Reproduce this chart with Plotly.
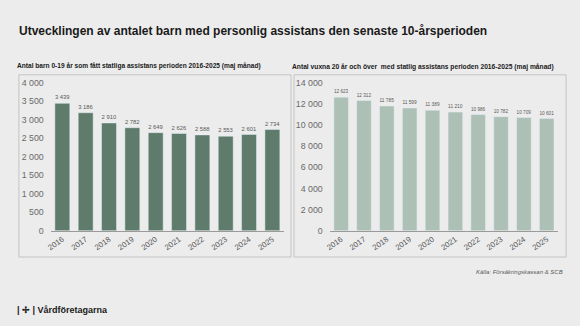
import plotly.graph_objects as go

years = ["2016", "2017", "2018", "2019", "2020", "2021", "2022", "2023", "2024", "2025"]
children = [3439, 3186, 2910, 2782, 2649, 2626, 2588, 2553, 2601, 2734]
adults = [12623, 12312, 11785, 11599, 11389, 11210, 10986, 10782, 10709, 10601]

title_text = "Utvecklingen av antalet barn med personlig assistans den senaste 10-årsperioden"
left_sub = "Antal barn 0-19 år som fått statliga assistans perioden 2016-2025 (maj månad)"
right_sub = "Antal vuxna 20 år och över  med statlig assistans perioden 2016-2025 (maj månad)"
source_text = "Källa: Försäkringskassan & SCB"
brand_text = "| ✢ | Vårdföretagarna"

W, H = 580, 326
BG = "#ECECEC"
SANS = "Liberation Sans, Arial, sans-serif"
GREY = "#595959"


def px(x):
    return x / W


def py(y):
    return 1 - y / H


fig = go.Figure()

fig.add_trace(go.Bar(
    x=years, y=children, marker_color="#5F7B6C", xaxis="x", yaxis="y",
    texttemplate="%{y:,}", textposition="outside", cliponaxis=False,
    textfont=dict(size=6.5, color=GREY, family=SANS), hoverinfo="skip",
))
fig.add_trace(go.Bar(
    x=years, y=adults, marker_color="#ADC0B5", xaxis="x2", yaxis="y2",
    texttemplate="%{y:,}", textposition="outside", cliponaxis=False,
    textfont=dict(size=6.5, color=GREY, family=SANS), hoverinfo="skip",
))

y_dom = [py(233), py(80)]
xcommon = dict(showline=True, linecolor="#9A9A9A", linewidth=1, showgrid=False,
               ticks="", tickangle=-35, tickfont=dict(size=7.8, color=GREY, family=SANS),
               fixedrange=True)
ycommon = dict(showline=False, showgrid=False, zeroline=False, ticks="",
               tickformat=",d", tickfont=dict(size=8.8, color="#6A6A6A", family=SANS),
               ticklabelstandoff=6, fixedrange=True)

fig.update_layout(
    width=W, height=H, margin=dict(l=0, r=0, t=0, b=0),
    paper_bgcolor=BG, plot_bgcolor=BG, showlegend=False,
    separators=", ", bargap=0.36,
    xaxis=dict(domain=[px(47), px(282)], anchor="y", **xcommon),
    yaxis=dict(domain=y_dom, anchor="x", range=[0, 4000], dtick=500, **ycommon),
    xaxis2=dict(domain=[px(328), px(558)], anchor="y2", **xcommon),
    yaxis2=dict(domain=y_dom, anchor="x2", range=[0, 14000], dtick=2000, **ycommon),
)

# panel frames
for x0, x1 in [(15, 289), (292, 566)]:
    fig.add_shape(type="rect", xref="paper", yref="paper",
                  x0=px(x0), x1=px(x1), y0=py(260), y1=py(72),
                  line=dict(color="#C4C4C4", width=1), fillcolor="rgba(0,0,0,0)",
                  layer="below")

ann = [
    dict(text=f"<b>{title_text}</b>", x=px(13), y=py(27), size=12, color="#1A1A1A",
         xanchor="left"),
    dict(text=f"<b>{left_sub}</b>", x=px(11), y=py(63), size=6.6, color="#1A1A1A",
         xanchor="left"),
    dict(text=f"<b>{right_sub}</b>", x=px(288), y=py(64), size=6.7, color="#1A1A1A",
         xanchor="left"),
    dict(text=f"<i>{source_text}</i>", x=px(565), y=py(275), size=6, color=GREY,
         xanchor="right"),
    dict(text=f"<b>{brand_text}</b>", x=px(11), y=py(315), size=9, color="#1A1A1A",
         xanchor="left"),
]
for a in ann:
    fig.add_annotation(text=a["text"], x=a["x"], y=a["y"], xref="paper", yref="paper",
                       xanchor=a["xanchor"], yanchor="middle", showarrow=False,
                       font=dict(size=a["size"], family=SANS, color=a["color"]))

fig.write_html("out.html")
